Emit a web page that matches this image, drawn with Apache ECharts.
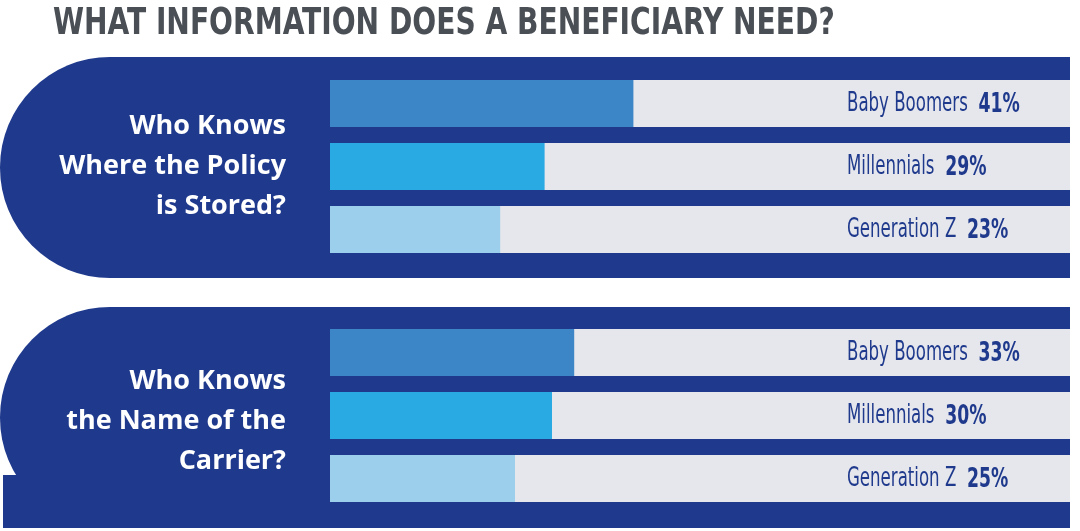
<!DOCTYPE html>
<html><head><meta charset="utf-8">
<script src="https://cdn.jsdelivr.net/npm/echarts@6/dist/echarts.min.js"></script>
<style>html,body{margin:0;padding:0;background:#fff}#c{width:1080px;height:531px}</style>
</head><body><div id="c"></div>
<script>
// ---- data ----
const title = 'WHAT INFORMATION DOES A BENEFICIARY NEED?';
const questions = [
  ['Who Knows', 'Where the Policy', 'is Stored?'],
  ['Who Knows', 'the Name of the', 'Carrier?']
];
const generations = ['Baby Boomers', 'Millennials', 'Generation Z'];
const policyStored = [41, 29, 23];
const carrierName = [33, 30, 25];
const scaleMax = 100;
const track = [scaleMax, scaleMax, scaleMax];

// ---- style ----
const NAVY = '#1f3a8d';
const TRACK = '#e6e7ec';
const BAR_COLORS = ['#3c86c8', '#29aae2', '#9ccfeb'];
const NARROW = "'DejaVu Sans Condensed','DejaVu Sans',sans-serif";

const panels = [
  {values: policyStored, top: 72, panelTop: 57, q: questions[0], qMid: 166},
  {values: carrierName, top: 321, panelTop: 307, q: questions[1], qMid: 421}
];

const grids = [], xAxes = [], yAxes = [], series = [], graphics = [];
panels.forEach((p, i) => {
  graphics.push({type: 'rect', z: -10, shape: {x: 0, y: p.panelTop, width: 1070, height: 221, r: [110, 0, 0, 110]}, style: {fill: NAVY}});
  graphics.push({type: 'text', z: 10, x: 286, y: p.qMid, style: {x: 0, y: 0, text: p.q.join('\n'), align: 'right', verticalAlign: 'middle',
    fill: '#ffffff', font: "bold 27px 'Open Sans', sans-serif", lineHeight: 40}});
  grids.push({left: 330, width: 740, top: p.top, height: 189});
  xAxes.push({type: 'value', gridIndex: i, min: 0, max: scaleMax, show: false});
  yAxes.push({type: 'category', gridIndex: i, data: generations, inverse: true, show: false});
  series.push({
    type: 'bar', xAxisIndex: i, yAxisIndex: i, barWidth: 47, barGap: '-100%', silent: true,
    itemStyle: {color: TRACK}, data: track
  });
  series.push({
    type: 'bar', xAxisIndex: i, yAxisIndex: i, barWidth: 47, barGap: '-100%', silent: true,
    data: p.values.map((v, k) => ({value: v, itemStyle: {color: BAR_COLORS[k]}}))
  });
  series.push({
    type: 'custom', xAxisIndex: i, yAxisIndex: i, silent: true, z: 5,
    data: p.values.map((v, k) => [v, k]),
    encode: {x: 0, y: 1},
    renderItem: (params, api) => {
      const k = api.value(1);
      const pt = api.coord([0, k]);
      return {
        type: 'text', x: pt[0] + 517, y: pt[1] + 1, scaleX: 0.71,
        style: {
          text: '{n|' + generations[k] + '}{s| }{v|' + api.value(0) + '%}',
          verticalAlign: 'middle', align: 'left',
          rich: {n: {fontFamily: NARROW, fontSize: 26, fill: NAVY, fontWeight: 'normal'},
                 s: {fontFamily: NARROW, fontSize: 26, width: 15},
                 v: {fontFamily: NARROW, fontSize: 27, fontWeight: 'bold', fill: NAVY}}
        }
      };
    }
  });
});
graphics.push({type: 'rect', z: -9, shape: {x: 3, y: 475, width: 330, height: 53}, style: {fill: NAVY}});
graphics.push({type: 'text', z: 10, x: 53, y: 6, scaleX: 0.845, style: {x: 0, y: 0, text: title, align: 'left', verticalAlign: 'top',
  fill: '#4a4f56', font: "bold 37px 'DejaVu Sans Condensed', 'DejaVu Sans', sans-serif"}});

const chart = echarts.init(document.getElementById('c'), null, {renderer: 'canvas'});
chart.setOption({
  animation: false,
  backgroundColor: '#ffffff',
  grid: grids, xAxis: xAxes, yAxis: yAxes, series: series, graphic: graphics
});
</script></body></html>
